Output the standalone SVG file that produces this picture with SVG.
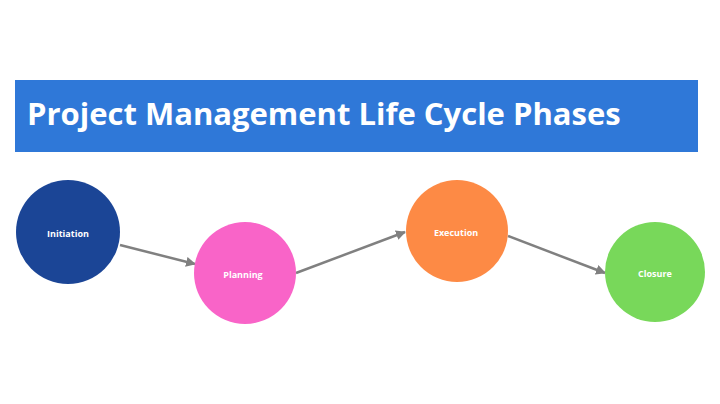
<svg xmlns="http://www.w3.org/2000/svg" width="720" height="404" viewBox="0 0 720 404">
<style>
.lbl{font-family:"Open Sans","Liberation Sans",sans-serif;font-weight:bold;font-size:9px;fill:#fff;text-anchor:middle;dominant-baseline:central}
.con{stroke:#808080;stroke-width:2.5;fill:none;marker-end:url(#ah)}
</style>
<defs><marker id="ah" viewBox="0 0 10 10" refX="9" refY="5" markerWidth="4" markerHeight="4" orient="auto"><path d="M0,0L10,5L0,10z" fill="#808080"/></marker></defs>
<rect width="720" height="404" fill="#fff"/>
<g id="title"><rect x="15" y="80" width="683" height="72" fill="#2f78d8"/>
<text x="27" y="125" font-family="Open Sans,Liberation Sans,sans-serif" font-weight="bold" font-size="31" fill="#fff">Project Management Life Cycle Phases</text></g>
<g id="connectors">
<line class="con" x1="120" y1="245" x2="195" y2="264"/>
<line class="con" x1="296" y1="273" x2="405" y2="232"/>
<line class="con" x1="508" y1="236" x2="605" y2="273"/>
</g>
<g id="initiation"><circle cx="68" cy="232" r="52" fill="#1b4596"/><text class="lbl" x="68" y="233">Initiation</text></g>
<g id="planning"><circle cx="245" cy="273" r="51" fill="#f964c8"/><text class="lbl" x="243" y="274">Planning</text></g>
<g id="execution"><circle cx="457" cy="231" r="51" fill="#fd8a45"/><text class="lbl" x="456" y="232">Execution</text></g>
<g id="closure"><circle cx="655" cy="272" r="50" fill="#78d85a"/><text class="lbl" x="655" y="273">Closure</text></g>
</svg>
